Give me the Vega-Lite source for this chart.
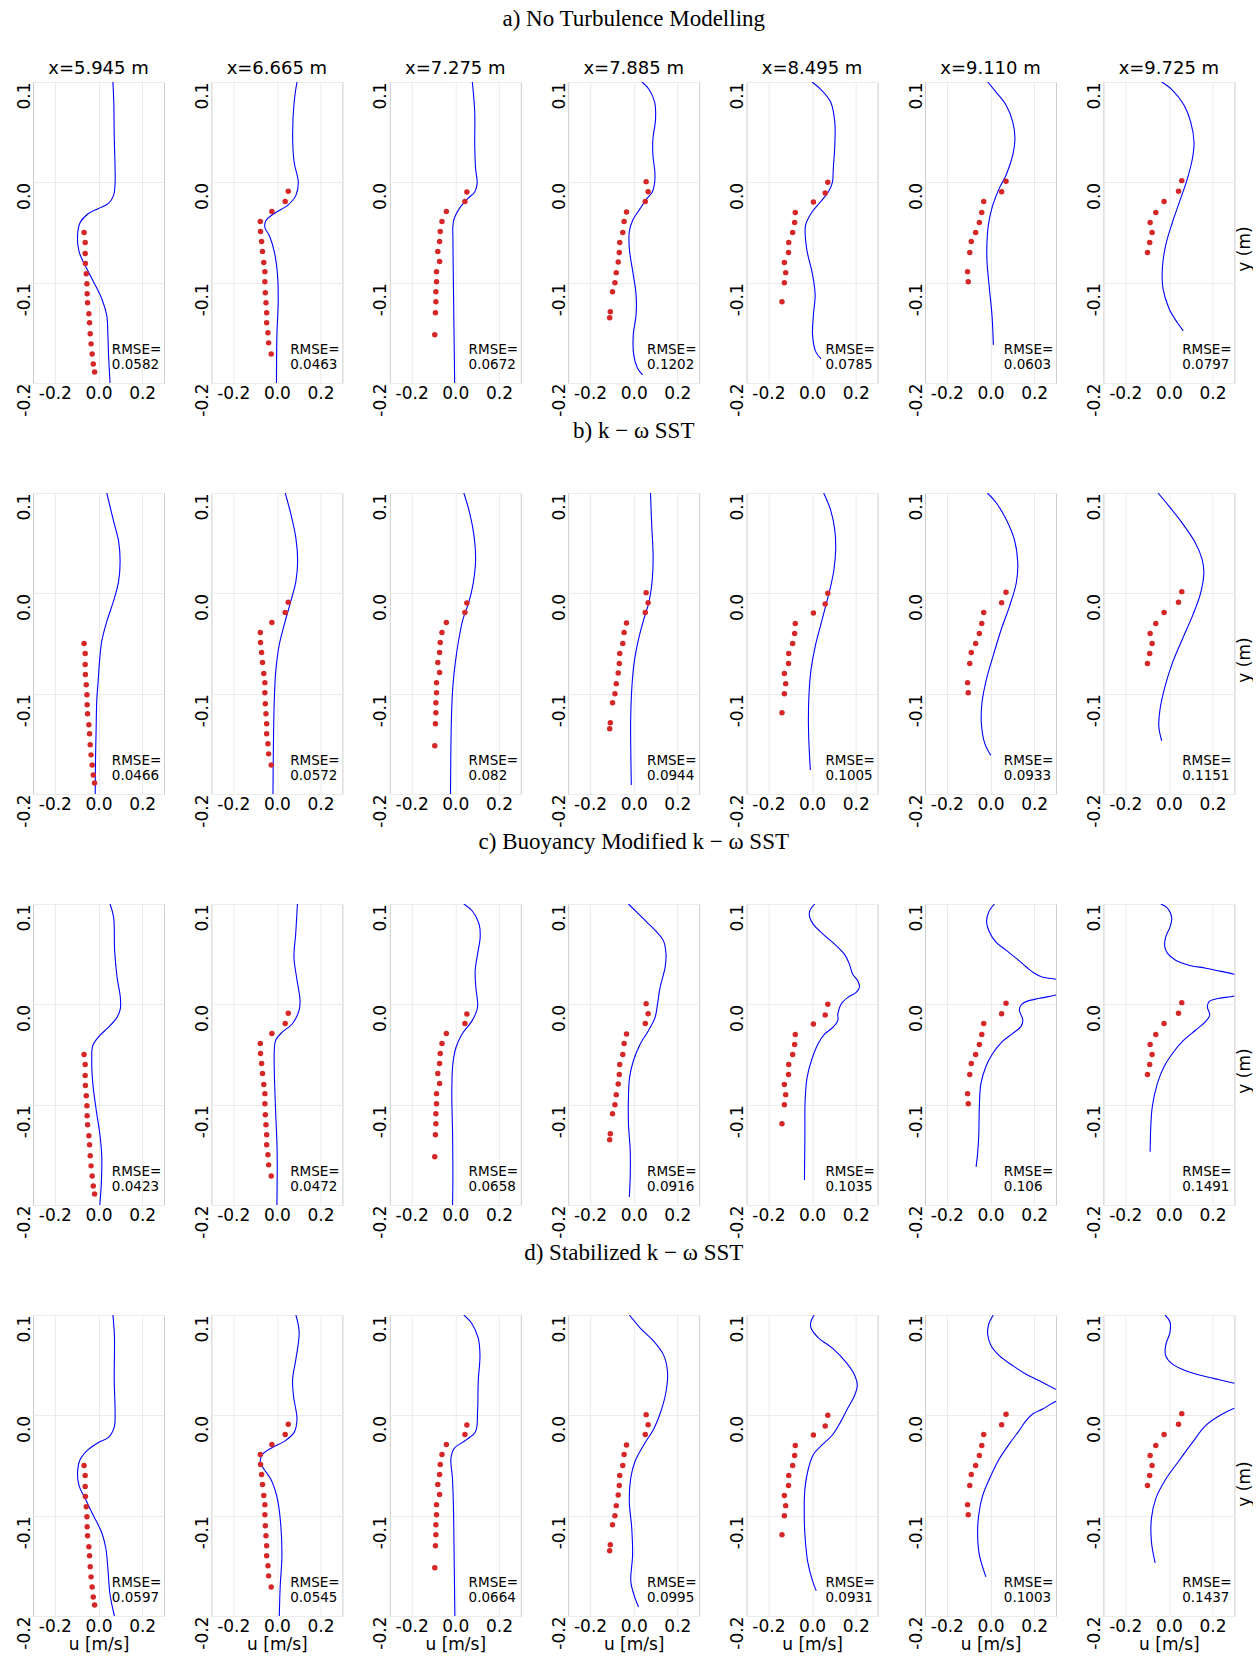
{
"$schema": "https://vega.github.io/schema/vega-lite/v6.json",
"background": "white",
"padding": {"left": 14, "top": 8, "right": 0, "bottom": 0},
"config": {
 "view": {"stroke": "#cccccc", "strokeWidth": 1},
 "axis": {"labelFont": "DejaVu Sans", "labelFontSize": 17, "labelColor": "black", "ticks": false, "domain": false, "gridColor": "#ebebeb", "gridWidth": 1, "titleFont": "DejaVu Sans", "titleFontSize": 17, "titleFontWeight": "normal", "titleColor": "black"},
 "header": {"labelFont": "DejaVu Sans", "titleFont": "DejaVu Sans", "labelColor": "black", "titleColor": "black", "labelFontWeight": "normal", "titleFontWeight": "normal"},
 "title": {"font": "Liberation Serif", "fontSize": 23, "fontWeight": "normal", "anchor": "middle", "color": "black"},
 "concat": {"spacing": 2}
},
"data": {"values": [
{"m":["a"],"c":5.945,"k":"r","r":"0.0582"},{"m":["a"],"c":6.665,"k":"r","r":"0.0463"},{"m":["a"],"c":7.275,"k":"r","r":"0.0672"},{"m":["a"],"c":7.885,"k":"r","r":"0.1202"},{"m":["a"],"c":8.495,"k":"r","r":"0.0785"},{"m":["a"],"c":9.11,"k":"r","r":"0.0603"},{"m":["a"],"c":9.725,"k":"r","r":"0.0797"},
{"m":["b"],"c":5.945,"k":"r","r":"0.0466"},{"m":["b"],"c":6.665,"k":"r","r":"0.0572"},{"m":["b"],"c":7.275,"k":"r","r":"0.082"},{"m":["b"],"c":7.885,"k":"r","r":"0.0944"},{"m":["b"],"c":8.495,"k":"r","r":"0.1005"},{"m":["b"],"c":9.11,"k":"r","r":"0.0933"},{"m":["b"],"c":9.725,"k":"r","r":"0.1151"},
{"m":["c"],"c":5.945,"k":"r","r":"0.0423"},{"m":["c"],"c":6.665,"k":"r","r":"0.0472"},{"m":["c"],"c":7.275,"k":"r","r":"0.0658"},{"m":["c"],"c":7.885,"k":"r","r":"0.0916"},{"m":["c"],"c":8.495,"k":"r","r":"0.1035"},{"m":["c"],"c":9.11,"k":"r","r":"0.106"},{"m":["c"],"c":9.725,"k":"r","r":"0.1491"},
{"m":["d"],"c":5.945,"k":"r","r":"0.0597"},{"m":["d"],"c":6.665,"k":"r","r":"0.0545"},{"m":["d"],"c":7.275,"k":"r","r":"0.0664"},{"m":["d"],"c":7.885,"k":"r","r":"0.0995"},{"m":["d"],"c":8.495,"k":"r","r":"0.0931"},{"m":["d"],"c":9.11,"k":"r","r":"0.1003"},{"m":["d"],"c":9.725,"k":"r","r":"0.1437"},

{"m":["a","b","c","d"],"c":5.945,"k":"p","u":-0.066,"y":-0.050},{"m":["a","b","c","d"],"c":5.945,"k":"p","u":-0.061,"y":-0.060},{"m":["a","b","c","d"],"c":5.945,"k":"p","u":-0.061,"y":-0.071},{"m":["a","b","c","d"],"c":5.945,"k":"p","u":-0.060,"y":-0.081},{"m":["a","b","c","d"],"c":5.945,"k":"p","u":-0.056,"y":-0.091},{"m":["a","b","c","d"],"c":5.945,"k":"p","u":-0.053,"y":-0.101},{"m":["a","b","c","d"],"c":5.945,"k":"p","u":-0.052,"y":-0.111},{"m":["a","b","c","d"],"c":5.945,"k":"p","u":-0.050,"y":-0.120},{"m":["a","b","c","d"],"c":5.945,"k":"p","u":-0.044,"y":-0.131},{"m":["a","b","c","d"],"c":5.945,"k":"p","u":-0.041,"y":-0.140},{"m":["a","b","c","d"],"c":5.945,"k":"p","u":-0.038,"y":-0.151},{"m":["a","b","c","d"],"c":5.945,"k":"p","u":-0.034,"y":-0.161},{"m":["a","b","c","d"],"c":5.945,"k":"p","u":-0.029,"y":-0.171},{"m":["a","b","c","d"],"c":5.945,"k":"p","u":-0.024,"y":-0.181},{"m":["a","b","c","d"],"c":5.945,"k":"p","u":-0.018,"y":-0.189},

{"m":["a","b","c","d"],"c":6.665,"k":"p","u":0.052,"y":-0.009},{"m":["a","b","c","d"],"c":6.665,"k":"p","u":0.038,"y":-0.019},{"m":["a","b","c","d"],"c":6.665,"k":"p","u":-0.023,"y":-0.029},{"m":["a","b","c","d"],"c":6.665,"k":"p","u":-0.076,"y":-0.039},{"m":["a","b","c","d"],"c":6.665,"k":"p","u":-0.075,"y":-0.049},{"m":["a","b","c","d"],"c":6.665,"k":"p","u":-0.070,"y":-0.059},{"m":["a","b","c","d"],"c":6.665,"k":"p","u":-0.066,"y":-0.069},{"m":["a","b","c","d"],"c":6.665,"k":"p","u":-0.060,"y":-0.080},{"m":["a","b","c","d"],"c":6.665,"k":"p","u":-0.055,"y":-0.089},{"m":["a","b","c","d"],"c":6.665,"k":"p","u":-0.055,"y":-0.099},{"m":["a","b","c","d"],"c":6.665,"k":"p","u":-0.053,"y":-0.110},{"m":["a","b","c","d"],"c":6.665,"k":"p","u":-0.050,"y":-0.120},{"m":["a","b","c","d"],"c":6.665,"k":"p","u":-0.047,"y":-0.130},{"m":["a","b","c","d"],"c":6.665,"k":"p","u":-0.047,"y":-0.140},{"m":["a","b","c","d"],"c":6.665,"k":"p","u":-0.041,"y":-0.150},{"m":["a","b","c","d"],"c":6.665,"k":"p","u":-0.038,"y":-0.160},{"m":["a","b","c","d"],"c":6.665,"k":"p","u":-0.026,"y":-0.171},

{"m":["a","b","c","d"],"c":7.275,"k":"p","u":0.053,"y":-0.0096},{"m":["a","b","c","d"],"c":7.275,"k":"p","u":0.044,"y":-0.019},{"m":["a","b","c","d"],"c":7.275,"k":"p","u":-0.041,"y":-0.029},{"m":["a","b","c","d"],"c":7.275,"k":"p","u":-0.061,"y":-0.039},{"m":["a","b","c","d"],"c":7.275,"k":"p","u":-0.069,"y":-0.049},{"m":["a","b","c","d"],"c":7.275,"k":"p","u":-0.072,"y":-0.059},{"m":["a","b","c","d"],"c":7.275,"k":"p","u":-0.080,"y":-0.069},{"m":["a","b","c","d"],"c":7.275,"k":"p","u":-0.072,"y":-0.079},{"m":["a","b","c","d"],"c":7.275,"k":"p","u":-0.086,"y":-0.089},{"m":["a","b","c","d"],"c":7.275,"k":"p","u":-0.086,"y":-0.099},{"m":["a","b","c","d"],"c":7.275,"k":"p","u":-0.089,"y":-0.109},{"m":["a","b","c","d"],"c":7.275,"k":"p","u":-0.089,"y":-0.119},{"m":["a","b","c","d"],"c":7.275,"k":"p","u":-0.091,"y":-0.130},{"m":["a","b","c","d"],"c":7.275,"k":"p","u":-0.094,"y":-0.152},

{"m":["a","b","c","d"],"c":7.885,"k":"p","u":0.057,"y":0.0007},{"m":["a","b","c","d"],"c":7.885,"k":"p","u":0.066,"y":-0.0093},{"m":["a","b","c","d"],"c":7.885,"k":"p","u":0.053,"y":-0.019},{"m":["a","b","c","d"],"c":7.885,"k":"p","u":-0.033,"y":-0.0295},{"m":["a","b","c","d"],"c":7.885,"k":"p","u":-0.044,"y":-0.039},{"m":["a","b","c","d"],"c":7.885,"k":"p","u":-0.050,"y":-0.050},{"m":["a","b","c","d"],"c":7.885,"k":"p","u":-0.064,"y":-0.060},{"m":["a","b","c","d"],"c":7.885,"k":"p","u":-0.066,"y":-0.070},{"m":["a","b","c","d"],"c":7.885,"k":"p","u":-0.071,"y":-0.0795},{"m":["a","b","c","d"],"c":7.885,"k":"p","u":-0.080,"y":-0.090},{"m":["a","b","c","d"],"c":7.885,"k":"p","u":-0.086,"y":-0.100},{"m":["a","b","c","d"],"c":7.885,"k":"p","u":-0.097,"y":-0.109},{"m":["a","b","c","d"],"c":7.885,"k":"p","u":-0.107,"y":-0.129},{"m":["a","b","c","d"],"c":7.885,"k":"p","u":-0.110,"y":-0.135},

{"m":["a","b","c","d"],"c":8.495,"k":"p","u":0.072,"y":0.0},{"m":["a","b","c","d"],"c":8.495,"k":"p","u":0.060,"y":-0.0106},{"m":["a","b","c","d"],"c":8.495,"k":"p","u":0.006,"y":-0.0196},{"m":["a","b","c","d"],"c":8.495,"k":"p","u":-0.077,"y":-0.030},{"m":["a","b","c","d"],"c":8.495,"k":"p","u":-0.080,"y":-0.040},{"m":["a","b","c","d"],"c":8.495,"k":"p","u":-0.089,"y":-0.050},{"m":["a","b","c","d"],"c":8.495,"k":"p","u":-0.107,"y":-0.060},{"m":["a","b","c","d"],"c":8.495,"k":"p","u":-0.108,"y":-0.070},{"m":["a","b","c","d"],"c":8.495,"k":"p","u":-0.127,"y":-0.080},{"m":["a","b","c","d"],"c":8.495,"k":"p","u":-0.121,"y":-0.090},{"m":["a","b","c","d"],"c":8.495,"k":"p","u":-0.127,"y":-0.100},{"m":["a","b","c","d"],"c":8.495,"k":"p","u":-0.138,"y":-0.119},

{"m":["a","b","c","d"],"c":9.11,"k":"p","u":0.071,"y":0.001},{"m":["a","b","c","d"],"c":9.11,"k":"p","u":0.051,"y":-0.0093},{"m":["a","b","c","d"],"c":9.11,"k":"p","u":-0.031,"y":-0.019},{"m":["a","b","c","d"],"c":9.11,"k":"p","u":-0.040,"y":-0.030},{"m":["a","b","c","d"],"c":9.11,"k":"p","u":-0.051,"y":-0.040},{"m":["a","b","c","d"],"c":9.11,"k":"p","u":-0.068,"y":-0.050},{"m":["a","b","c","d"],"c":9.11,"k":"p","u":-0.088,"y":-0.059},{"m":["a","b","c","d"],"c":9.11,"k":"p","u":-0.095,"y":-0.070},{"m":["a","b","c","d"],"c":9.11,"k":"p","u":-0.105,"y":-0.089},{"m":["a","b","c","d"],"c":9.11,"k":"p","u":-0.102,"y":-0.099},

{"m":["a","b","c","d"],"c":9.725,"k":"p","u":0.059,"y":0.0017},{"m":["a","b","c","d"],"c":9.725,"k":"p","u":0.044,"y":-0.009},{"m":["a","b","c","d"],"c":9.725,"k":"p","u":-0.022,"y":-0.019},{"m":["a","b","c","d"],"c":9.725,"k":"p","u":-0.060,"y":-0.030},{"m":["a","b","c","d"],"c":9.725,"k":"p","u":-0.086,"y":-0.040},{"m":["a","b","c","d"],"c":9.725,"k":"p","u":-0.077,"y":-0.050},{"m":["a","b","c","d"],"c":9.725,"k":"p","u":-0.088,"y":-0.060},{"m":["a","b","c","d"],"c":9.725,"k":"p","u":-0.098,"y":-0.070},

{"m":["a"],"c":5.945,"k":"l","u":0.066,"y":0.1},{"m":["a"],"c":5.945,"k":"l","u":0.070,"y":0.080},{"m":["a"],"c":5.945,"k":"l","u":0.072,"y":0.047},{"m":["a"],"c":5.945,"k":"l","u":0.076,"y":0.0136},{"m":["a"],"c":5.945,"k":"l","u":0.076,"y":-0.001},{"m":["a"],"c":5.945,"k":"l","u":0.069,"y":-0.013},{"m":["a"],"c":5.945,"k":"l","u":0.046,"y":-0.021},{"m":["a"],"c":5.945,"k":"l","u":0.0,"y":-0.026},{"m":["a"],"c":5.945,"k":"l","u":-0.046,"y":-0.031},{"m":["a"],"c":5.945,"k":"l","u":-0.084,"y":-0.040},{"m":["a"],"c":5.945,"k":"l","u":-0.096,"y":-0.053},{"m":["a"],"c":5.945,"k":"l","u":-0.089,"y":-0.069},{"m":["a"],"c":5.945,"k":"l","u":-0.061,"y":-0.083},{"m":["a"],"c":5.945,"k":"l","u":-0.023,"y":-0.099},{"m":["a"],"c":5.945,"k":"l","u":0.015,"y":-0.116},{"m":["a"],"c":5.945,"k":"l","u":0.038,"y":-0.133},{"m":["a"],"c":5.945,"k":"l","u":0.043,"y":-0.152},{"m":["a"],"c":5.945,"k":"l","u":0.046,"y":-0.172},{"m":["a"],"c":5.945,"k":"l","u":0.053,"y":-0.2},

{"m":["a"],"c":6.665,"k":"l","u":0.092,"y":0.1},{"m":["a"],"c":6.665,"k":"l","u":0.079,"y":0.080},{"m":["a"],"c":6.665,"k":"l","u":0.072,"y":0.047},{"m":["a"],"c":6.665,"k":"l","u":0.079,"y":0.020},{"m":["a"],"c":6.665,"k":"l","u":0.098,"y":0.0},{"m":["a"],"c":6.665,"k":"l","u":0.087,"y":-0.013},{"m":["a"],"c":6.665,"k":"l","u":0.049,"y":-0.023},{"m":["a"],"c":6.665,"k":"l","u":-0.012,"y":-0.031},{"m":["a"],"c":6.665,"k":"l","u":-0.050,"y":-0.038},{"m":["a"],"c":6.665,"k":"l","u":-0.055,"y":-0.045},{"m":["a"],"c":6.665,"k":"l","u":-0.035,"y":-0.053},{"m":["a"],"c":6.665,"k":"l","u":-0.012,"y":-0.069},{"m":["a"],"c":6.665,"k":"l","u":0.003,"y":-0.093},{"m":["a"],"c":6.665,"k":"l","u":0.006,"y":-0.119},{"m":["a"],"c":6.665,"k":"l","u":0.0,"y":-0.152},{"m":["a"],"c":6.665,"k":"l","u":-0.002,"y":-0.2},

{"m":["a"],"c":7.275,"k":"l","u":0.078,"y":0.1},{"m":["a"],"c":7.275,"k":"l","u":0.089,"y":0.070},{"m":["a"],"c":7.275,"k":"l","u":0.089,"y":0.037},{"m":["a"],"c":7.275,"k":"l","u":0.093,"y":0.0136},{"m":["a"],"c":7.275,"k":"l","u":0.100,"y":-0.001},{"m":["a"],"c":7.275,"k":"l","u":0.089,"y":-0.0096},{"m":["a"],"c":7.275,"k":"l","u":0.058,"y":-0.016},{"m":["a"],"c":7.275,"k":"l","u":0.019,"y":-0.026},{"m":["a"],"c":7.275,"k":"l","u":-0.005,"y":-0.036},{"m":["a"],"c":7.275,"k":"l","u":-0.011,"y":-0.043},{"m":["a"],"c":7.275,"k":"l","u":-0.011,"y":-0.056},{"m":["a"],"c":7.275,"k":"l","u":-0.009,"y":-0.096},{"m":["a"],"c":7.275,"k":"l","u":-0.006,"y":-0.146},{"m":["a"],"c":7.275,"k":"l","u":-0.003,"y":-0.2},

{"m":["a"],"c":7.885,"k":"l","u":0.038,"y":0.1},{"m":["a"],"c":7.885,"k":"l","u":0.069,"y":0.093},{"m":["a"],"c":7.885,"k":"l","u":0.096,"y":0.080},{"m":["a"],"c":7.885,"k":"l","u":0.100,"y":0.063},{"m":["a"],"c":7.885,"k":"l","u":0.088,"y":0.043},{"m":["a"],"c":7.885,"k":"l","u":0.088,"y":0.027},{"m":["a"],"c":7.885,"k":"l","u":0.097,"y":0.010},{"m":["a"],"c":7.885,"k":"l","u":0.096,"y":0.0},{"m":["a"],"c":7.885,"k":"l","u":0.085,"y":-0.0096},{"m":["a"],"c":7.885,"k":"l","u":0.061,"y":-0.016},{"m":["a"],"c":7.885,"k":"l","u":0.030,"y":-0.026},{"m":["a"],"c":7.885,"k":"l","u":-0.005,"y":-0.038},{"m":["a"],"c":7.885,"k":"l","u":-0.020,"y":-0.049},{"m":["a"],"c":7.885,"k":"l","u":-0.020,"y":-0.066},{"m":["a"],"c":7.885,"k":"l","u":-0.002,"y":-0.092},{"m":["a"],"c":7.885,"k":"l","u":0.011,"y":-0.112},{"m":["a"],"c":7.885,"k":"l","u":0.011,"y":-0.132},{"m":["a"],"c":7.885,"k":"l","u":-0.002,"y":-0.152},{"m":["a"],"c":7.885,"k":"l","u":0.0,"y":-0.172},{"m":["a"],"c":7.885,"k":"l","u":0.017,"y":-0.185},{"m":["a"],"c":7.885,"k":"l","u":0.041,"y":-0.192},

{"m":["a"],"c":8.495,"k":"l","u":0.0,"y":0.1},{"m":["a"],"c":8.495,"k":"l","u":0.038,"y":0.093},{"m":["a"],"c":8.495,"k":"l","u":0.085,"y":0.080},{"m":["a"],"c":8.495,"k":"l","u":0.104,"y":0.060},{"m":["a"],"c":8.495,"k":"l","u":0.104,"y":0.037},{"m":["a"],"c":8.495,"k":"l","u":0.097,"y":0.0136},{"m":["a"],"c":8.495,"k":"l","u":0.093,"y":0.0},{"m":["a"],"c":8.495,"k":"l","u":0.074,"y":-0.0096},{"m":["a"],"c":8.495,"k":"l","u":0.038,"y":-0.0196},{"m":["a"],"c":8.495,"k":"l","u":0.0,"y":-0.0295},{"m":["a"],"c":8.495,"k":"l","u":-0.030,"y":-0.043},{"m":["a"],"c":8.495,"k":"l","u":-0.025,"y":-0.066},{"m":["a"],"c":8.495,"k":"l","u":0.002,"y":-0.092},{"m":["a"],"c":8.495,"k":"l","u":0.014,"y":-0.112},{"m":["a"],"c":8.495,"k":"l","u":0.006,"y":-0.132},{"m":["a"],"c":8.495,"k":"l","u":0.002,"y":-0.152},{"m":["a"],"c":8.495,"k":"l","u":0.017,"y":-0.169},{"m":["a"],"c":8.495,"k":"l","u":0.041,"y":-0.176},

{"m":["a"],"c":9.11,"k":"l","u":-0.013,"y":0.1},{"m":["a"],"c":9.11,"k":"l","u":0.025,"y":0.090},{"m":["a"],"c":9.11,"k":"l","u":0.071,"y":0.077},{"m":["a"],"c":9.11,"k":"l","u":0.102,"y":0.060},{"m":["a"],"c":9.11,"k":"l","u":0.112,"y":0.044},{"m":["a"],"c":9.11,"k":"l","u":0.102,"y":0.027},{"m":["a"],"c":9.11,"k":"l","u":0.071,"y":0.007},{"m":["a"],"c":9.11,"k":"l","u":0.040,"y":-0.006},{"m":["a"],"c":9.11,"k":"l","u":0.010,"y":-0.023},{"m":["a"],"c":9.11,"k":"l","u":-0.008,"y":-0.040},{"m":["a"],"c":9.11,"k":"l","u":-0.016,"y":-0.059},{"m":["a"],"c":9.11,"k":"l","u":-0.016,"y":-0.079},{"m":["a"],"c":9.11,"k":"l","u":-0.005,"y":-0.106},{"m":["a"],"c":9.11,"k":"l","u":0.007,"y":-0.133},{"m":["a"],"c":9.11,"k":"l","u":0.013,"y":-0.162},

{"m":["a"],"c":9.725,"k":"l","u":-0.033,"y":0.1},{"m":["a"],"c":9.725,"k":"l","u":0.016,"y":0.092},{"m":["a"],"c":9.725,"k":"l","u":0.069,"y":0.077},{"m":["a"],"c":9.725,"k":"l","u":0.100,"y":0.060},{"m":["a"],"c":9.725,"k":"l","u":0.115,"y":0.040},{"m":["a"],"c":9.725,"k":"l","u":0.108,"y":0.024},{"m":["a"],"c":9.725,"k":"l","u":0.085,"y":0.004},{"m":["a"],"c":9.725,"k":"l","u":0.054,"y":-0.016},{"m":["a"],"c":9.725,"k":"l","u":0.016,"y":-0.040},{"m":["a"],"c":9.725,"k":"l","u":-0.015,"y":-0.063},{"m":["a"],"c":9.725,"k":"l","u":-0.030,"y":-0.086},{"m":["a"],"c":9.725,"k":"l","u":-0.027,"y":-0.106},{"m":["a"],"c":9.725,"k":"l","u":0.001,"y":-0.126},{"m":["a"],"c":9.725,"k":"l","u":0.039,"y":-0.140},{"m":["a"],"c":9.725,"k":"l","u":0.066,"y":-0.148},

{"m":["b"],"c":5.945,"k":"l","u":0.038,"y":0.1},{"m":["b"],"c":5.945,"k":"l","u":0.069,"y":0.072},{"m":["b"],"c":5.945,"k":"l","u":0.092,"y":0.052},{"m":["b"],"c":5.945,"k":"l","u":0.099,"y":0.032},{"m":["b"],"c":5.945,"k":"l","u":0.092,"y":0.012},{"m":["b"],"c":5.945,"k":"l","u":0.069,"y":-0.0076},{"m":["b"],"c":5.945,"k":"l","u":0.038,"y":-0.028},{"m":["b"],"c":5.945,"k":"l","u":0.015,"y":-0.0475},{"m":["b"],"c":5.945,"k":"l","u":0.005,"y":-0.067},{"m":["b"],"c":5.945,"k":"l","u":-0.0015,"y":-0.087},{"m":["b"],"c":5.945,"k":"l","u":-0.008,"y":-0.107},{"m":["b"],"c":5.945,"k":"l","u":-0.011,"y":-0.137},{"m":["b"],"c":5.945,"k":"l","u":-0.014,"y":-0.170},{"m":["b"],"c":5.945,"k":"l","u":-0.015,"y":-0.2},

{"m":["b"],"c":6.665,"k":"l","u":0.038,"y":0.1},{"m":["b"],"c":6.665,"k":"l","u":0.064,"y":0.079},{"m":["b"],"c":6.665,"k":"l","u":0.087,"y":0.055},{"m":["b"],"c":6.665,"k":"l","u":0.095,"y":0.032},{"m":["b"],"c":6.665,"k":"l","u":0.087,"y":0.012},{"m":["b"],"c":6.665,"k":"l","u":0.064,"y":-0.0076},{"m":["b"],"c":6.665,"k":"l","u":0.034,"y":-0.031},{"m":["b"],"c":6.665,"k":"l","u":0.011,"y":-0.051},{"m":["b"],"c":6.665,"k":"l","u":-0.005,"y":-0.077},{"m":["b"],"c":6.665,"k":"l","u":-0.012,"y":-0.107},{"m":["b"],"c":6.665,"k":"l","u":-0.015,"y":-0.137},{"m":["b"],"c":6.665,"k":"l","u":-0.017,"y":-0.170},{"m":["b"],"c":6.665,"k":"l","u":-0.018,"y":-0.2},

{"m":["b"],"c":7.275,"k":"l","u":0.039,"y":0.1},{"m":["b"],"c":7.275,"k":"l","u":0.066,"y":0.080},{"m":["b"],"c":7.275,"k":"l","u":0.086,"y":0.057},{"m":["b"],"c":7.275,"k":"l","u":0.093,"y":0.034},{"m":["b"],"c":7.275,"k":"l","u":0.082,"y":0.010},{"m":["b"],"c":7.275,"k":"l","u":0.061,"y":-0.0096},{"m":["b"],"c":7.275,"k":"l","u":0.035,"y":-0.026},{"m":["b"],"c":7.275,"k":"l","u":0.016,"y":-0.046},{"m":["b"],"c":7.275,"k":"l","u":0.0,"y":-0.069},{"m":["b"],"c":7.275,"k":"l","u":-0.011,"y":-0.0925},{"m":["b"],"c":7.275,"k":"l","u":-0.017,"y":-0.119},{"m":["b"],"c":7.275,"k":"l","u":-0.020,"y":-0.152},{"m":["b"],"c":7.275,"k":"l","u":-0.022,"y":-0.2},

{"m":["b"],"c":7.885,"k":"l","u":0.077,"y":0.1},{"m":["b"],"c":7.885,"k":"l","u":0.082,"y":0.070},{"m":["b"],"c":7.885,"k":"l","u":0.089,"y":0.037},{"m":["b"],"c":7.885,"k":"l","u":0.085,"y":0.0136},{"m":["b"],"c":7.885,"k":"l","u":0.069,"y":-0.0096},{"m":["b"],"c":7.885,"k":"l","u":0.046,"y":-0.026},{"m":["b"],"c":7.885,"k":"l","u":0.022,"y":-0.046},{"m":["b"],"c":7.885,"k":"l","u":0.002,"y":-0.069},{"m":["b"],"c":7.885,"k":"l","u":-0.009,"y":-0.096},{"m":["b"],"c":7.885,"k":"l","u":-0.014,"y":-0.129},{"m":["b"],"c":7.885,"k":"l","u":-0.013,"y":-0.162},{"m":["b"],"c":7.885,"k":"l","u":-0.011,"y":-0.191},

{"m":["b"],"c":8.495,"k":"l","u":0.053,"y":0.1},{"m":["b"],"c":8.495,"k":"l","u":0.085,"y":0.083},{"m":["b"],"c":8.495,"k":"l","u":0.104,"y":0.063},{"m":["b"],"c":8.495,"k":"l","u":0.108,"y":0.044},{"m":["b"],"c":8.495,"k":"l","u":0.100,"y":0.0235},{"m":["b"],"c":8.495,"k":"l","u":0.085,"y":0.007},{"m":["b"],"c":8.495,"k":"l","u":0.066,"y":-0.0096},{"m":["b"],"c":8.495,"k":"l","u":0.042,"y":-0.0295},{"m":["b"],"c":8.495,"k":"l","u":0.014,"y":-0.053},{"m":["b"],"c":8.495,"k":"l","u":-0.005,"y":-0.076},{"m":["b"],"c":8.495,"k":"l","u":-0.014,"y":-0.0995},{"m":["b"],"c":8.495,"k":"l","u":-0.017,"y":-0.126},{"m":["b"],"c":8.495,"k":"l","u":-0.014,"y":-0.152},{"m":["b"],"c":8.495,"k":"l","u":-0.008,"y":-0.176},

{"m":["b"],"c":9.11,"k":"l","u":-0.014,"y":0.1},{"m":["b"],"c":9.11,"k":"l","u":0.027,"y":0.090},{"m":["b"],"c":9.11,"k":"l","u":0.072,"y":0.0735},{"m":["b"],"c":9.11,"k":"l","u":0.110,"y":0.053},{"m":["b"],"c":9.11,"k":"l","u":0.125,"y":0.030},{"m":["b"],"c":9.11,"k":"l","u":0.118,"y":0.0103},{"m":["b"],"c":9.11,"k":"l","u":0.087,"y":-0.013},{"m":["b"],"c":9.11,"k":"l","u":0.049,"y":-0.036},{"m":["b"],"c":9.11,"k":"l","u":0.011,"y":-0.063},{"m":["b"],"c":9.11,"k":"l","u":-0.019,"y":-0.086},{"m":["b"],"c":9.11,"k":"l","u":-0.039,"y":-0.109},{"m":["b"],"c":9.11,"k":"l","u":-0.042,"y":-0.129},{"m":["b"],"c":9.11,"k":"l","u":-0.027,"y":-0.149},{"m":["b"],"c":9.11,"k":"l","u":0.001,"y":-0.1615},

{"m":["b"],"c":9.725,"k":"l","u":-0.050,"y":0.1},{"m":["b"],"c":9.725,"k":"l","u":0.0,"y":0.087},{"m":["b"],"c":9.725,"k":"l","u":0.061,"y":0.070},{"m":["b"],"c":9.725,"k":"l","u":0.122,"y":0.050},{"m":["b"],"c":9.725,"k":"l","u":0.152,"y":0.034},{"m":["b"],"c":9.725,"k":"l","u":0.160,"y":0.020},{"m":["b"],"c":9.725,"k":"l","u":0.145,"y":0.0},{"m":["b"],"c":9.725,"k":"l","u":0.107,"y":-0.023},{"m":["b"],"c":9.725,"k":"l","u":0.061,"y":-0.046},{"m":["b"],"c":9.725,"k":"l","u":0.015,"y":-0.070},{"m":["b"],"c":9.725,"k":"l","u":-0.018,"y":-0.093},{"m":["b"],"c":9.725,"k":"l","u":-0.041,"y":-0.116},{"m":["b"],"c":9.725,"k":"l","u":-0.046,"y":-0.133},{"m":["b"],"c":9.725,"k":"l","u":-0.033,"y":-0.147},

{"m":["c"],"c":5.945,"k":"l","u":0.053,"y":0.1},{"m":["c"],"c":5.945,"k":"l","u":0.069,"y":0.087},{"m":["c"],"c":5.945,"k":"l","u":0.074,"y":0.053},{"m":["c"],"c":5.945,"k":"l","u":0.085,"y":0.027},{"m":["c"],"c":5.945,"k":"l","u":0.100,"y":0.007},{"m":["c"],"c":5.945,"k":"l","u":0.100,"y":-0.0046},{"m":["c"],"c":5.945,"k":"l","u":0.085,"y":-0.013},{"m":["c"],"c":5.945,"k":"l","u":0.045,"y":-0.023},{"m":["c"],"c":5.945,"k":"l","u":0.006,"y":-0.031},{"m":["c"],"c":5.945,"k":"l","u":-0.026,"y":-0.041},{"m":["c"],"c":5.945,"k":"l","u":-0.031,"y":-0.053},{"m":["c"],"c":5.945,"k":"l","u":-0.026,"y":-0.079},{"m":["c"],"c":5.945,"k":"l","u":-0.010,"y":-0.106},{"m":["c"],"c":5.945,"k":"l","u":0.006,"y":-0.129},{"m":["c"],"c":5.945,"k":"l","u":0.015,"y":-0.152},{"m":["c"],"c":5.945,"k":"l","u":0.013,"y":-0.178},{"m":["c"],"c":5.945,"k":"l","u":0.006,"y":-0.2},

{"m":["c"],"c":6.665,"k":"l","u":0.094,"y":0.1},{"m":["c"],"c":6.665,"k":"l","u":0.086,"y":0.070},{"m":["c"],"c":6.665,"k":"l","u":0.078,"y":0.047},{"m":["c"],"c":6.665,"k":"l","u":0.090,"y":0.027},{"m":["c"],"c":6.665,"k":"l","u":0.106,"y":0.0036},{"m":["c"],"c":6.665,"k":"l","u":0.101,"y":-0.0063},{"m":["c"],"c":6.665,"k":"l","u":0.070,"y":-0.0196},{"m":["c"],"c":6.665,"k":"l","u":0.023,"y":-0.028},{"m":["c"],"c":6.665,"k":"l","u":-0.006,"y":-0.036},{"m":["c"],"c":6.665,"k":"l","u":-0.012,"y":-0.046},{"m":["c"],"c":6.665,"k":"l","u":-0.012,"y":-0.066},{"m":["c"],"c":6.665,"k":"l","u":-0.006,"y":-0.106},{"m":["c"],"c":6.665,"k":"l","u":0.001,"y":-0.146},{"m":["c"],"c":6.665,"k":"l","u":0.0,"y":-0.2},

{"m":["c"],"c":7.275,"k":"l","u":0.039,"y":0.1},{"m":["c"],"c":7.275,"k":"l","u":0.078,"y":0.093},{"m":["c"],"c":7.275,"k":"l","u":0.109,"y":0.080},{"m":["c"],"c":7.275,"k":"l","u":0.114,"y":0.067},{"m":["c"],"c":7.275,"k":"l","u":0.102,"y":0.050},{"m":["c"],"c":7.275,"k":"l","u":0.091,"y":0.0335},{"m":["c"],"c":7.275,"k":"l","u":0.094,"y":0.017},{"m":["c"],"c":7.275,"k":"l","u":0.102,"y":-0.003},{"m":["c"],"c":7.275,"k":"l","u":0.078,"y":-0.016},{"m":["c"],"c":7.275,"k":"l","u":0.031,"y":-0.0295},{"m":["c"],"c":7.275,"k":"l","u":0.003,"y":-0.043},{"m":["c"],"c":7.275,"k":"l","u":-0.011,"y":-0.059},{"m":["c"],"c":7.275,"k":"l","u":-0.016,"y":-0.086},{"m":["c"],"c":7.275,"k":"l","u":-0.0125,"y":-0.129},{"m":["c"],"c":7.275,"k":"l","u":-0.011,"y":-0.172},{"m":["c"],"c":7.275,"k":"l","u":-0.0125,"y":-0.2},

{"m":["c"],"c":7.885,"k":"l","u":-0.024,"y":0.1},{"m":["c"],"c":7.885,"k":"l","u":0.014,"y":0.092},{"m":["c"],"c":7.885,"k":"l","u":0.060,"y":0.082},{"m":["c"],"c":7.885,"k":"l","u":0.106,"y":0.072},{"m":["c"],"c":7.885,"k":"l","u":0.136,"y":0.0635},{"m":["c"],"c":7.885,"k":"l","u":0.148,"y":0.050},{"m":["c"],"c":7.885,"k":"l","u":0.144,"y":0.037},{"m":["c"],"c":7.885,"k":"l","u":0.121,"y":0.017},{"m":["c"],"c":7.885,"k":"l","u":0.109,"y":0.0},{"m":["c"],"c":7.885,"k":"l","u":0.098,"y":-0.013},{"m":["c"],"c":7.885,"k":"l","u":0.068,"y":-0.026},{"m":["c"],"c":7.885,"k":"l","u":0.030,"y":-0.0395},{"m":["c"],"c":7.885,"k":"l","u":-0.001,"y":-0.056},{"m":["c"],"c":7.885,"k":"l","u":-0.019,"y":-0.073},{"m":["c"],"c":7.885,"k":"l","u":-0.024,"y":-0.0925},{"m":["c"],"c":7.885,"k":"l","u":-0.024,"y":-0.119},{"m":["c"],"c":7.885,"k":"l","u":-0.016,"y":-0.146},{"m":["c"],"c":7.885,"k":"l","u":-0.016,"y":-0.172},{"m":["c"],"c":7.885,"k":"l","u":-0.020,"y":-0.192},

{"m":["c"],"c":8.495,"k":"l","u":0.012,"y":0.1},{"m":["c"],"c":8.495,"k":"l","u":-0.011,"y":0.093},{"m":["c"],"c":8.495,"k":"l","u":-0.011,"y":0.087},{"m":["c"],"c":8.495,"k":"l","u":0.005,"y":0.080},{"m":["c"],"c":8.495,"k":"l","u":0.050,"y":0.070},{"m":["c"],"c":8.495,"k":"l","u":0.103,"y":0.060},{"m":["c"],"c":8.495,"k":"l","u":0.148,"y":0.050},{"m":["c"],"c":8.495,"k":"l","u":0.171,"y":0.040},{"m":["c"],"c":8.495,"k":"l","u":0.186,"y":0.030},{"m":["c"],"c":8.495,"k":"l","u":0.209,"y":0.0236},{"m":["c"],"c":8.495,"k":"l","u":0.217,"y":0.017},{"m":["c"],"c":8.495,"k":"l","u":0.202,"y":0.012},{"m":["c"],"c":8.495,"k":"l","u":0.164,"y":0.007},{"m":["c"],"c":8.495,"k":"l","u":0.133,"y":0.0003},{"m":["c"],"c":8.495,"k":"l","u":0.118,"y":-0.0096},{"m":["c"],"c":8.495,"k":"l","u":0.118,"y":-0.016},{"m":["c"],"c":8.495,"k":"l","u":0.095,"y":-0.023},{"m":["c"],"c":8.495,"k":"l","u":0.058,"y":-0.0295},{"m":["c"],"c":8.495,"k":"l","u":0.027,"y":-0.0395},{"m":["c"],"c":8.495,"k":"l","u":-0.003,"y":-0.056},{"m":["c"],"c":8.495,"k":"l","u":-0.023,"y":-0.073},{"m":["c"],"c":8.495,"k":"l","u":-0.032,"y":-0.096},{"m":["c"],"c":8.495,"k":"l","u":-0.033,"y":-0.129},{"m":["c"],"c":8.495,"k":"l","u":-0.035,"y":-0.175},

{"m":["c"],"c":9.11,"k":"l","u":0.018,"y":0.1},{"m":["c"],"c":9.11,"k":"l","u":-0.008,"y":0.092},{"m":["c"],"c":9.11,"k":"l","u":-0.018,"y":0.082},{"m":["c"],"c":9.11,"k":"l","u":-0.005,"y":0.072},{"m":["c"],"c":9.11,"k":"l","u":0.025,"y":0.062},{"m":["c"],"c":9.11,"k":"l","u":0.071,"y":0.054},{"m":["c"],"c":9.11,"k":"l","u":0.117,"y":0.046},{"m":["c"],"c":9.11,"k":"l","u":0.163,"y":0.0375},{"m":["c"],"c":9.11,"k":"l","u":0.201,"y":0.031},{"m":["c"],"c":9.11,"k":"l","u":0.239,"y":0.027},{"m":["c"],"c":9.11,"k":"l","u":0.300,"y":0.025},{"m":["c"],"c":9.11,"k":"l","u":0.40,"y":0.017},{"m":["c"],"c":9.11,"k":"l","u":0.300,"y":0.0093},{"m":["c"],"c":9.11,"k":"l","u":0.224,"y":0.006},{"m":["c"],"c":9.11,"k":"l","u":0.163,"y":0.0027},{"m":["c"],"c":9.11,"k":"l","u":0.140,"y":-0.0007},{"m":["c"],"c":9.11,"k":"l","u":0.132,"y":-0.0056},{"m":["c"],"c":9.11,"k":"l","u":0.148,"y":-0.0156},{"m":["c"],"c":9.11,"k":"l","u":0.140,"y":-0.022},{"m":["c"],"c":9.11,"k":"l","u":0.102,"y":-0.029},{"m":["c"],"c":9.11,"k":"l","u":0.055,"y":-0.037},{"m":["c"],"c":9.11,"k":"l","u":0.010,"y":-0.049},{"m":["c"],"c":9.11,"k":"l","u":-0.021,"y":-0.062},{"m":["c"],"c":9.11,"k":"l","u":-0.044,"y":-0.079},{"m":["c"],"c":9.11,"k":"l","u":-0.051,"y":-0.1017},{"m":["c"],"c":9.11,"k":"l","u":-0.054,"y":-0.132},{"m":["c"],"c":9.11,"k":"l","u":-0.059,"y":-0.1485},{"m":["c"],"c":9.11,"k":"l","u":-0.066,"y":-0.162},

{"m":["c"],"c":9.725,"k":"l","u":-0.037,"y":0.1},{"m":["c"],"c":9.725,"k":"l","u":-0.007,"y":0.096},{"m":["c"],"c":9.725,"k":"l","u":0.013,"y":0.086},{"m":["c"],"c":9.725,"k":"l","u":0.005,"y":0.077},{"m":["c"],"c":9.725,"k":"l","u":-0.015,"y":0.067},{"m":["c"],"c":9.725,"k":"l","u":-0.019,"y":0.0575},{"m":["c"],"c":9.725,"k":"l","u":-0.007,"y":0.051},{"m":["c"],"c":9.725,"k":"l","u":0.031,"y":0.044},{"m":["c"],"c":9.725,"k":"l","u":0.092,"y":0.039},{"m":["c"],"c":9.725,"k":"l","u":0.169,"y":0.036},{"m":["c"],"c":9.725,"k":"l","u":0.245,"y":0.0326},{"m":["c"],"c":9.725,"k":"l","u":0.300,"y":0.030},{"m":["c"],"c":9.725,"k":"l","u":0.45,"y":0.019},{"m":["c"],"c":9.725,"k":"l","u":0.300,"y":0.0083},{"m":["c"],"c":9.725,"k":"l","u":0.230,"y":0.006},{"m":["c"],"c":9.725,"k":"l","u":0.184,"y":0.0027},{"m":["c"],"c":9.725,"k":"l","u":0.176,"y":-0.0023},{"m":["c"],"c":9.725,"k":"l","u":0.187,"y":-0.0106},{"m":["c"],"c":9.725,"k":"l","u":0.169,"y":-0.017},{"m":["c"],"c":9.725,"k":"l","u":0.123,"y":-0.0256},{"m":["c"],"c":9.725,"k":"l","u":0.069,"y":-0.0355},{"m":["c"],"c":9.725,"k":"l","u":0.016,"y":-0.049},{"m":["c"],"c":9.725,"k":"l","u":-0.022,"y":-0.062},{"m":["c"],"c":9.725,"k":"l","u":-0.053,"y":-0.079},{"m":["c"],"c":9.725,"k":"l","u":-0.076,"y":-0.102},{"m":["c"],"c":9.725,"k":"l","u":-0.083,"y":-0.122},{"m":["c"],"c":9.725,"k":"l","u":-0.086,"y":-0.147},

{"m":["d"],"c":5.945,"k":"l","u":0.066,"y":0.1},{"m":["d"],"c":5.945,"k":"l","u":0.073,"y":0.079},{"m":["d"],"c":5.945,"k":"l","u":0.072,"y":0.036},{"m":["d"],"c":5.945,"k":"l","u":0.076,"y":0.0027},{"m":["d"],"c":5.945,"k":"l","u":0.073,"y":-0.011},{"m":["d"],"c":5.945,"k":"l","u":0.046,"y":-0.022},{"m":["d"],"c":5.945,"k":"l","u":0.0,"y":-0.027},{"m":["d"],"c":5.945,"k":"l","u":-0.046,"y":-0.034},{"m":["d"],"c":5.945,"k":"l","u":-0.084,"y":-0.044},{"m":["d"],"c":5.945,"k":"l","u":-0.096,"y":-0.057},{"m":["d"],"c":5.945,"k":"l","u":-0.089,"y":-0.070},{"m":["d"],"c":5.945,"k":"l","u":-0.061,"y":-0.083},{"m":["d"],"c":5.945,"k":"l","u":-0.023,"y":-0.100},{"m":["d"],"c":5.945,"k":"l","u":0.015,"y":-0.117},{"m":["d"],"c":5.945,"k":"l","u":0.034,"y":-0.133},{"m":["d"],"c":5.945,"k":"l","u":0.043,"y":-0.153},{"m":["d"],"c":5.945,"k":"l","u":0.053,"y":-0.179},{"m":["d"],"c":5.945,"k":"l","u":0.073,"y":-0.2},

{"m":["d"],"c":6.665,"k":"l","u":0.087,"y":0.1},{"m":["d"],"c":6.665,"k":"l","u":0.102,"y":0.083},{"m":["d"],"c":6.665,"k":"l","u":0.087,"y":0.056},{"m":["d"],"c":6.665,"k":"l","u":0.072,"y":0.036},{"m":["d"],"c":6.665,"k":"l","u":0.076,"y":0.019},{"m":["d"],"c":6.665,"k":"l","u":0.092,"y":-0.004},{"m":["d"],"c":6.665,"k":"l","u":0.079,"y":-0.017},{"m":["d"],"c":6.665,"k":"l","u":0.034,"y":-0.026},{"m":["d"],"c":6.665,"k":"l","u":-0.020,"y":-0.032},{"m":["d"],"c":6.665,"k":"l","u":-0.066,"y":-0.039},{"m":["d"],"c":6.665,"k":"l","u":-0.076,"y":-0.047},{"m":["d"],"c":6.665,"k":"l","u":-0.058,"y":-0.054},{"m":["d"],"c":6.665,"k":"l","u":-0.027,"y":-0.064},{"m":["d"],"c":6.665,"k":"l","u":0.003,"y":-0.084},{"m":["d"],"c":6.665,"k":"l","u":0.018,"y":-0.110},{"m":["d"],"c":6.665,"k":"l","u":0.023,"y":-0.140},{"m":["d"],"c":6.665,"k":"l","u":0.015,"y":-0.171},{"m":["d"],"c":6.665,"k":"l","u":0.011,"y":-0.2},

{"m":["d"],"c":7.275,"k":"l","u":0.039,"y":0.1},{"m":["d"],"c":7.275,"k":"l","u":0.074,"y":0.092},{"m":["d"],"c":7.275,"k":"l","u":0.105,"y":0.077},{"m":["d"],"c":7.275,"k":"l","u":0.113,"y":0.060},{"m":["d"],"c":7.275,"k":"l","u":0.105,"y":0.0335},{"m":["d"],"c":7.275,"k":"l","u":0.102,"y":0.0036},{"m":["d"],"c":7.275,"k":"l","u":0.093,"y":-0.016},{"m":["d"],"c":7.275,"k":"l","u":0.050,"y":-0.0245},{"m":["d"],"c":7.275,"k":"l","u":-0.005,"y":-0.033},{"m":["d"],"c":7.275,"k":"l","u":-0.020,"y":-0.043},{"m":["d"],"c":7.275,"k":"l","u":-0.013,"y":-0.063},{"m":["d"],"c":7.275,"k":"l","u":-0.008,"y":-0.096},{"m":["d"],"c":7.275,"k":"l","u":-0.005,"y":-0.146},{"m":["d"],"c":7.275,"k":"l","u":-0.002,"y":-0.2},

{"m":["d"],"c":7.885,"k":"l","u":-0.020,"y":0.1},{"m":["d"],"c":7.885,"k":"l","u":0.030,"y":0.087},{"m":["d"],"c":7.885,"k":"l","u":0.093,"y":0.0735},{"m":["d"],"c":7.885,"k":"l","u":0.137,"y":0.060},{"m":["d"],"c":7.885,"k":"l","u":0.155,"y":0.043},{"m":["d"],"c":7.885,"k":"l","u":0.148,"y":0.0235},{"m":["d"],"c":7.885,"k":"l","u":0.124,"y":0.0036},{"m":["d"],"c":7.885,"k":"l","u":0.093,"y":-0.013},{"m":["d"],"c":7.885,"k":"l","u":0.046,"y":-0.0295},{"m":["d"],"c":7.885,"k":"l","u":0.006,"y":-0.046},{"m":["d"],"c":7.885,"k":"l","u":-0.014,"y":-0.063},{"m":["d"],"c":7.885,"k":"l","u":-0.020,"y":-0.086},{"m":["d"],"c":7.885,"k":"l","u":-0.009,"y":-0.1125},{"m":["d"],"c":7.885,"k":"l","u":-0.005,"y":-0.139},{"m":["d"],"c":7.885,"k":"l","u":-0.013,"y":-0.166},{"m":["d"],"c":7.885,"k":"l","u":0.006,"y":-0.182},{"m":["d"],"c":7.885,"k":"l","u":0.022,"y":-0.191},

{"m":["d"],"c":8.495,"k":"l","u":0.009,"y":0.1},{"m":["d"],"c":8.495,"k":"l","u":-0.006,"y":0.093},{"m":["d"],"c":8.495,"k":"l","u":-0.005,"y":0.087},{"m":["d"],"c":8.495,"k":"l","u":0.030,"y":0.077},{"m":["d"],"c":8.495,"k":"l","u":0.093,"y":0.067},{"m":["d"],"c":8.495,"k":"l","u":0.155,"y":0.053},{"m":["d"],"c":8.495,"k":"l","u":0.195,"y":0.040},{"m":["d"],"c":8.495,"k":"l","u":0.207,"y":0.030},{"m":["d"],"c":8.495,"k":"l","u":0.195,"y":0.020},{"m":["d"],"c":8.495,"k":"l","u":0.163,"y":0.007},{"m":["d"],"c":8.495,"k":"l","u":0.132,"y":-0.006},{"m":["d"],"c":8.495,"k":"l","u":0.093,"y":-0.0196},{"m":["d"],"c":8.495,"k":"l","u":0.046,"y":-0.0295},{"m":["d"],"c":8.495,"k":"l","u":0.006,"y":-0.039},{"m":["d"],"c":8.495,"k":"l","u":-0.017,"y":-0.053},{"m":["d"],"c":8.495,"k":"l","u":-0.033,"y":-0.073},{"m":["d"],"c":8.495,"k":"l","u":-0.036,"y":-0.096},{"m":["d"],"c":8.495,"k":"l","u":-0.033,"y":-0.119},{"m":["d"],"c":8.495,"k":"l","u":-0.020,"y":-0.146},{"m":["d"],"c":8.495,"k":"l","u":0.002,"y":-0.165},{"m":["d"],"c":8.495,"k":"l","u":0.019,"y":-0.175},

{"m":["d"],"c":9.11,"k":"l","u":0.013,"y":0.1},{"m":["d"],"c":9.11,"k":"l","u":-0.008,"y":0.091},{"m":["d"],"c":9.11,"k":"l","u":-0.013,"y":0.081},{"m":["d"],"c":9.11,"k":"l","u":0.002,"y":0.0695},{"m":["d"],"c":9.11,"k":"l","u":0.040,"y":0.0595},{"m":["d"],"c":9.11,"k":"l","u":0.102,"y":0.0495},{"m":["d"],"c":9.11,"k":"l","u":0.163,"y":0.041},{"m":["d"],"c":9.11,"k":"l","u":0.224,"y":0.0345},{"m":["d"],"c":9.11,"k":"l","u":0.300,"y":0.026},{"m":["d"],"c":9.11,"k":"l","u":0.40,"y":0.020},{"m":["d"],"c":9.11,"k":"l","u":0.300,"y":0.014},{"m":["d"],"c":9.11,"k":"l","u":0.239,"y":0.0063},{"m":["d"],"c":9.11,"k":"l","u":0.193,"y":0.0013},{"m":["d"],"c":9.11,"k":"l","u":0.163,"y":-0.0053},{"m":["d"],"c":9.11,"k":"l","u":0.132,"y":-0.015},{"m":["d"],"c":9.11,"k":"l","u":0.086,"y":-0.0285},{"m":["d"],"c":9.11,"k":"l","u":0.040,"y":-0.0435},{"m":["d"],"c":9.11,"k":"l","u":0.002,"y":-0.060},{"m":["d"],"c":9.11,"k":"l","u":-0.036,"y":-0.080},{"m":["d"],"c":9.11,"k":"l","u":-0.054,"y":-0.0993},{"m":["d"],"c":9.11,"k":"l","u":-0.059,"y":-0.119},{"m":["d"],"c":9.11,"k":"l","u":-0.051,"y":-0.139},{"m":["d"],"c":9.11,"k":"l","u":-0.021,"y":-0.161},

{"m":["d"],"c":9.725,"k":"l","u":-0.018,"y":0.1},{"m":["d"],"c":9.725,"k":"l","u":0.005,"y":0.093},{"m":["d"],"c":9.725,"k":"l","u":0.005,"y":0.083},{"m":["d"],"c":9.725,"k":"l","u":-0.015,"y":0.0695},{"m":["d"],"c":9.725,"k":"l","u":-0.015,"y":0.0595},{"m":["d"],"c":9.725,"k":"l","u":0.016,"y":0.051},{"m":["d"],"c":9.725,"k":"l","u":0.077,"y":0.0445},{"m":["d"],"c":9.725,"k":"l","u":0.153,"y":0.0395},{"m":["d"],"c":9.725,"k":"l","u":0.230,"y":0.0355},{"m":["d"],"c":9.725,"k":"l","u":0.300,"y":0.032},{"m":["d"],"c":9.725,"k":"l","u":0.5,"y":0.02},{"m":["d"],"c":9.725,"k":"l","u":0.300,"y":0.007},{"m":["d"],"c":9.725,"k":"l","u":0.245,"y":0.0013},{"m":["d"],"c":9.725,"k":"l","u":0.169,"y":-0.010},{"m":["d"],"c":9.725,"k":"l","u":0.108,"y":-0.027},{"m":["d"],"c":9.725,"k":"l","u":0.047,"y":-0.045},{"m":["d"],"c":9.725,"k":"l","u":-0.014,"y":-0.0635},{"m":["d"],"c":9.725,"k":"l","u":-0.060,"y":-0.083},{"m":["d"],"c":9.725,"k":"l","u":-0.080,"y":-0.1027},{"m":["d"],"c":9.725,"k":"l","u":-0.080,"y":-0.126},{"m":["d"],"c":9.725,"k":"l","u":-0.063,"y":-0.147}
]},
"vconcat": [
{
 "title": {"text": "a) No Turbulence Modelling", "offset": 29},
 "transform": [{"flatten": ["m"]}, {"filter": "datum.m == 'a'"}],
 "facet": {
  "column": {"field": "c", "type": "ordinal", "header": {"labelExpr": "'x=' + format(datum.value, '.3f') + ' m'", "labelFontSize": 18, "labelPadding": 3, "title": null}},
  "row": {"field": "m", "type": "nominal", "header": {"labels": false, "title": "y (m)", "titleOrient": "right", "titleAngle": -90, "titleFontSize": 17, "titlePadding": -8}}
 },
 "spacing": {"column": 27.4, "row": 0},
 "resolve": {"axis": {"x": "independent", "y": "independent"}},
 "spec": {"width": 131, "height": 301, "layer": [
  {"transform": [{"filter": "datum.k == 'l'"}], "mark": {"type": "line", "color": "#0000ff", "strokeWidth": 1.1, "clip": true, "interpolate": "catmull-rom"},
   "encoding": {
    "x": {"field": "u", "type": "quantitative", "scale": {"domain": [-0.3, 0.3], "nice": false, "zero": false}, "axis": {"values": [-0.2, 0, 0.2], "labelExpr": "datum.value < 0 ? '-' + format(-datum.value, '.1f') : format(datum.value, '.1f')", "title": null, "labelPadding": 2}},
    "y": {"field": "y", "type": "quantitative", "scale": {"domain": [-0.2, 0.1], "nice": false, "zero": false}, "axis": {"values": [-0.2, -0.1, 0, 0.1], "labelExpr": "datum.value < 0 ? '-' + format(-datum.value, '.1f') : format(datum.value, '.1f')", "labelAngle": -90, "labelAlign": "right", "labelBaseline": "bottom", "labelPadding": 0, "title": null}},
    "order": {"field": "y", "type": "quantitative", "sort": "descending"}}},
  {"transform": [{"filter": "datum.k == 'p'"}], "mark": {"type": "circle", "color": "#d62728", "size": 30, "opacity": 1}, "encoding": {"x": {"field": "u", "type": "quantitative", "title": null}, "y": {"field": "y", "type": "quantitative", "title": null}}},
  {"transform": [{"filter": "datum.k == 'r'"}], "mark": {"type": "text", "text": "RMSE=", "align": "left", "baseline": "alphabetic", "font": "DejaVu Sans", "fontSize": 13.5, "color": "black"}, "encoding": {"x": {"datum": 0.061, "title": null}, "y": {"datum": -0.171, "title": null}}},
  {"transform": [{"filter": "datum.k == 'r'"}], "mark": {"type": "text", "align": "left", "baseline": "alphabetic", "font": "DejaVu Sans", "fontSize": 13.5, "color": "black"}, "encoding": {"x": {"datum": 0.061, "title": null}, "y": {"datum": -0.1857, "title": null}, "text": {"field": "r", "type": "nominal"}}}
 ]}
},
{
 "title": {"text": "b) k − ω SST", "offset": 50},
 "transform": [{"flatten": ["m"]}, {"filter": "datum.m == 'b'"}],
 "facet": {
  "column": {"field": "c", "type": "ordinal", "header": {"labels": false, "title": null}},
  "row": {"field": "m", "type": "nominal", "header": {"labels": false, "title": "y (m)", "titleOrient": "right", "titleAngle": -90, "titleFontSize": 17, "titlePadding": -8}}
 },
 "spacing": {"column": 27.4, "row": 0},
 "resolve": {"axis": {"x": "independent", "y": "independent"}},
 "spec": {"width": 131, "height": 301, "layer": [
  {"transform": [{"filter": "datum.k == 'l'"}], "mark": {"type": "line", "color": "#0000ff", "strokeWidth": 1.1, "clip": true, "interpolate": "catmull-rom"},
   "encoding": {
    "x": {"field": "u", "type": "quantitative", "scale": {"domain": [-0.3, 0.3], "nice": false, "zero": false}, "axis": {"values": [-0.2, 0, 0.2], "labelExpr": "datum.value < 0 ? '-' + format(-datum.value, '.1f') : format(datum.value, '.1f')", "title": null, "labelPadding": 2}},
    "y": {"field": "y", "type": "quantitative", "scale": {"domain": [-0.2, 0.1], "nice": false, "zero": false}, "axis": {"values": [-0.2, -0.1, 0, 0.1], "labelExpr": "datum.value < 0 ? '-' + format(-datum.value, '.1f') : format(datum.value, '.1f')", "labelAngle": -90, "labelAlign": "right", "labelBaseline": "bottom", "labelPadding": 0, "title": null}},
    "order": {"field": "y", "type": "quantitative", "sort": "descending"}}},
  {"transform": [{"filter": "datum.k == 'p'"}], "mark": {"type": "circle", "color": "#d62728", "size": 30, "opacity": 1}, "encoding": {"x": {"field": "u", "type": "quantitative", "title": null}, "y": {"field": "y", "type": "quantitative", "title": null}}},
  {"transform": [{"filter": "datum.k == 'r'"}], "mark": {"type": "text", "text": "RMSE=", "align": "left", "baseline": "alphabetic", "font": "DejaVu Sans", "fontSize": 13.5, "color": "black"}, "encoding": {"x": {"datum": 0.061, "title": null}, "y": {"datum": -0.171, "title": null}}},
  {"transform": [{"filter": "datum.k == 'r'"}], "mark": {"type": "text", "align": "left", "baseline": "alphabetic", "font": "DejaVu Sans", "fontSize": 13.5, "color": "black"}, "encoding": {"x": {"datum": 0.061, "title": null}, "y": {"datum": -0.1857, "title": null}, "text": {"field": "r", "type": "nominal"}}}
 ]}
},
{
 "title": {"text": "c) Buoyancy Modified k − ω SST", "offset": 50},
 "transform": [{"flatten": ["m"]}, {"filter": "datum.m == 'c'"}],
 "facet": {
  "column": {"field": "c", "type": "ordinal", "header": {"labels": false, "title": null}},
  "row": {"field": "m", "type": "nominal", "header": {"labels": false, "title": "y (m)", "titleOrient": "right", "titleAngle": -90, "titleFontSize": 17, "titlePadding": -8}}
 },
 "spacing": {"column": 27.4, "row": 0},
 "resolve": {"axis": {"x": "independent", "y": "independent"}},
 "spec": {"width": 131, "height": 301, "layer": [
  {"transform": [{"filter": "datum.k == 'l'"}], "mark": {"type": "line", "color": "#0000ff", "strokeWidth": 1.1, "clip": true, "interpolate": "catmull-rom"},
   "encoding": {
    "x": {"field": "u", "type": "quantitative", "scale": {"domain": [-0.3, 0.3], "nice": false, "zero": false}, "axis": {"values": [-0.2, 0, 0.2], "labelExpr": "datum.value < 0 ? '-' + format(-datum.value, '.1f') : format(datum.value, '.1f')", "title": null, "labelPadding": 2}},
    "y": {"field": "y", "type": "quantitative", "scale": {"domain": [-0.2, 0.1], "nice": false, "zero": false}, "axis": {"values": [-0.2, -0.1, 0, 0.1], "labelExpr": "datum.value < 0 ? '-' + format(-datum.value, '.1f') : format(datum.value, '.1f')", "labelAngle": -90, "labelAlign": "right", "labelBaseline": "bottom", "labelPadding": 0, "title": null}},
    "order": {"field": "y", "type": "quantitative", "sort": "descending"}}},
  {"transform": [{"filter": "datum.k == 'p'"}], "mark": {"type": "circle", "color": "#d62728", "size": 30, "opacity": 1}, "encoding": {"x": {"field": "u", "type": "quantitative", "title": null}, "y": {"field": "y", "type": "quantitative", "title": null}}},
  {"transform": [{"filter": "datum.k == 'r'"}], "mark": {"type": "text", "text": "RMSE=", "align": "left", "baseline": "alphabetic", "font": "DejaVu Sans", "fontSize": 13.5, "color": "black"}, "encoding": {"x": {"datum": 0.061, "title": null}, "y": {"datum": -0.171, "title": null}}},
  {"transform": [{"filter": "datum.k == 'r'"}], "mark": {"type": "text", "align": "left", "baseline": "alphabetic", "font": "DejaVu Sans", "fontSize": 13.5, "color": "black"}, "encoding": {"x": {"datum": 0.061, "title": null}, "y": {"datum": -0.1857, "title": null}, "text": {"field": "r", "type": "nominal"}}}
 ]}
},
{
 "title": {"text": "d) Stabilized k − ω SST", "offset": 50},
 "transform": [{"flatten": ["m"]}, {"filter": "datum.m == 'd'"}],
 "facet": {
  "column": {"field": "c", "type": "ordinal", "header": {"labels": false, "title": null}},
  "row": {"field": "m", "type": "nominal", "header": {"labels": false, "title": "y (m)", "titleOrient": "right", "titleAngle": -90, "titleFontSize": 17, "titlePadding": -8}}
 },
 "spacing": {"column": 27.4, "row": 0},
 "resolve": {"axis": {"x": "independent", "y": "independent"}},
 "spec": {"width": 131, "height": 301, "layer": [
  {"transform": [{"filter": "datum.k == 'l'"}], "mark": {"type": "line", "color": "#0000ff", "strokeWidth": 1.1, "clip": true, "interpolate": "catmull-rom"},
   "encoding": {
    "x": {"field": "u", "type": "quantitative", "scale": {"domain": [-0.3, 0.3], "nice": false, "zero": false}, "axis": {"values": [-0.2, 0, 0.2], "labelExpr": "datum.value < 0 ? '-' + format(-datum.value, '.1f') : format(datum.value, '.1f')", "title": "u [m/s]", "titlePadding": 2, "labelPadding": 2}},
    "y": {"field": "y", "type": "quantitative", "scale": {"domain": [-0.2, 0.1], "nice": false, "zero": false}, "axis": {"values": [-0.2, -0.1, 0, 0.1], "labelExpr": "datum.value < 0 ? '-' + format(-datum.value, '.1f') : format(datum.value, '.1f')", "labelAngle": -90, "labelAlign": "right", "labelBaseline": "bottom", "labelPadding": 0, "title": null}},
    "order": {"field": "y", "type": "quantitative", "sort": "descending"}}},
  {"transform": [{"filter": "datum.k == 'p'"}], "mark": {"type": "circle", "color": "#d62728", "size": 30, "opacity": 1}, "encoding": {"x": {"field": "u", "type": "quantitative"}, "y": {"field": "y", "type": "quantitative", "title": null}}},
  {"transform": [{"filter": "datum.k == 'r'"}], "mark": {"type": "text", "text": "RMSE=", "align": "left", "baseline": "alphabetic", "font": "DejaVu Sans", "fontSize": 13.5, "color": "black"}, "encoding": {"x": {"datum": 0.061}, "y": {"datum": -0.171, "title": null}}},
  {"transform": [{"filter": "datum.k == 'r'"}], "mark": {"type": "text", "align": "left", "baseline": "alphabetic", "font": "DejaVu Sans", "fontSize": 13.5, "color": "black"}, "encoding": {"x": {"datum": 0.061}, "y": {"datum": -0.1857, "title": null}, "text": {"field": "r", "type": "nominal"}}}
 ]}
}
]
}
